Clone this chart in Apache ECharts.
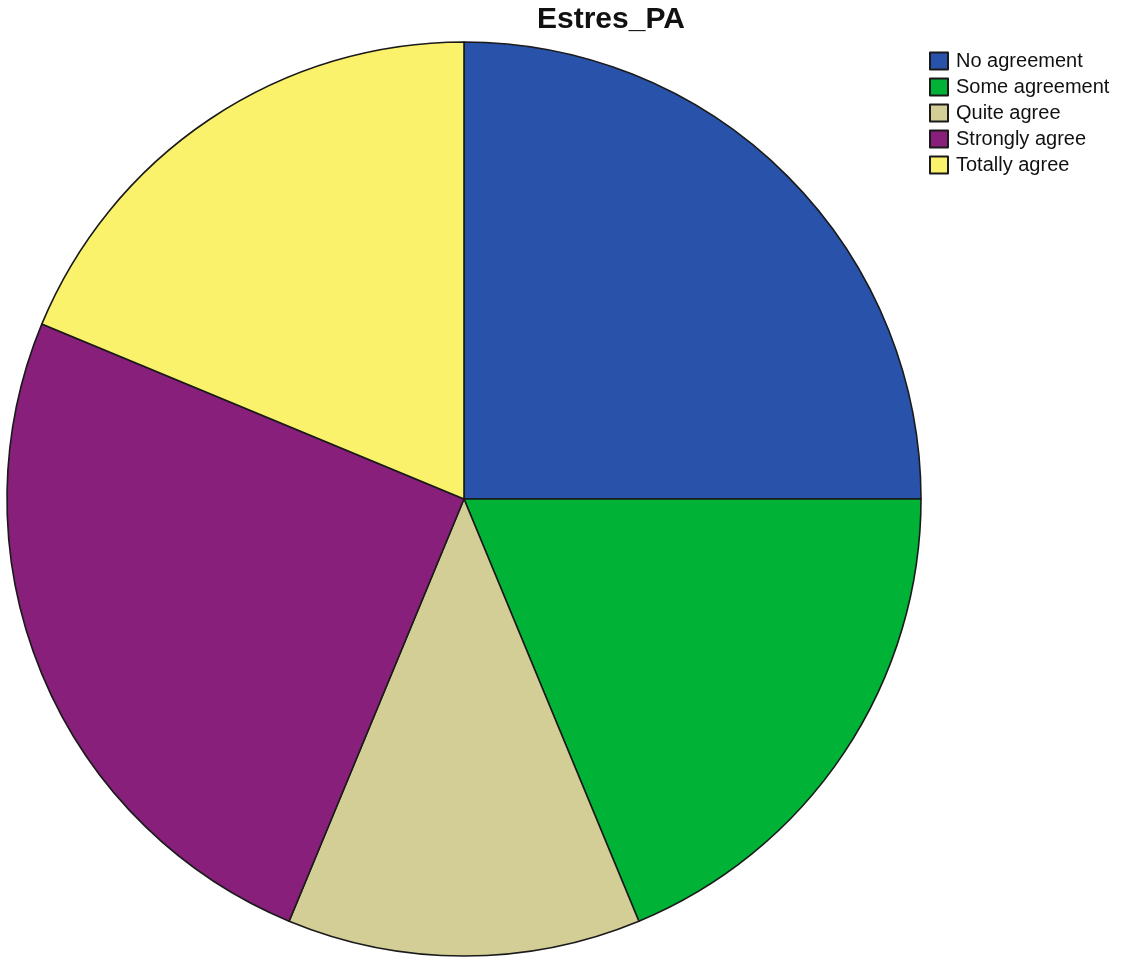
<!DOCTYPE html>
<html>
<head>
<meta charset="utf-8">
<script src="https://cdn.jsdelivr.net/npm/echarts@6/dist/echarts.min.js"></script>
<style>
html,body{margin:0;padding:0;background:#fff;}
#chart{width:1125px;height:957px;}
</style>
</head>
<body>
<div id="chart"></div>
<script>
const categories = ['No agreement', 'Some agreement', 'Quite agree', 'Strongly agree', 'Totally agree'];
const counts = [4, 3, 2, 4, 3];
const colors = ['#2953AB', '#00B336', '#D3CE95', '#871F7B', '#FBF26C'];
const chartTitle = 'Estres_PA';

const chart = echarts.init(document.getElementById('chart'), null, {renderer: 'canvas'});
chart.setOption({
  backgroundColor: '#ffffff',
  animation: false,
  title: {
    text: chartTitle,
    left: 532,
    top: 0,
    textStyle: {
      fontFamily: 'Liberation Sans, Arial, sans-serif',
      fontSize: 30,
      fontWeight: 'bold',
      color: '#111111'
    }
  },
  legend: {
    orient: 'vertical',
    left: 924,
    top: 46,
    icon: 'rect',
    itemWidth: 18,
    itemHeight: 17,
    itemGap: 6,
    data: categories,
    textStyle: {
      fontFamily: 'Liberation Sans, Arial, sans-serif',
      fontSize: 20,
      color: '#111111',
      padding: [0, 0, 0, 3]
    }
  },
  series: [{
    type: 'pie',
    center: [464, 499],
    radius: 457,
    startAngle: 90,
    clockwise: true,
    label: {show: false},
    labelLine: {show: false},
    emphasis: {disabled: true},
    itemStyle: {borderColor: '#1a1a1a', borderWidth: 1.6},
    data: categories.map((c, i) => ({
      name: c,
      value: counts[i],
      itemStyle: {color: colors[i]}
    }))
  }]
});
</script>
</body>
</html>
